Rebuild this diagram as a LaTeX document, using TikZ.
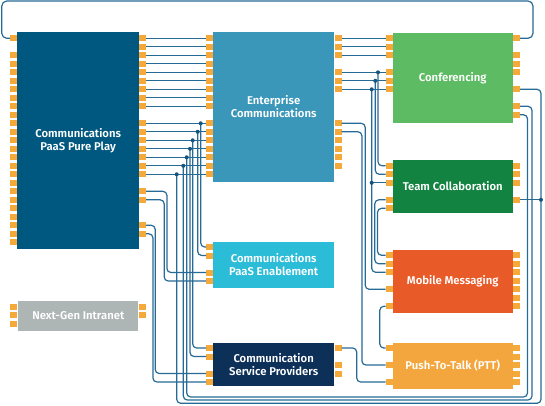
\documentclass[tikz,border=0pt]{standalone}
\usepackage{fontspec}
\setmainfont{Fira Sans}[BoldFont={Fira Sans SemiBold}]

\definecolor{purecol}{RGB}{0,88,128}
\definecolor{entcol}{RGB}{59,151,185}
\definecolor{enabcol}{RGB}{43,188,216}
\definecolor{cspcol}{RGB}{12,48,88}
\definecolor{nextcol}{RGB}{174,182,181}
\definecolor{confcol}{RGB}{93,187,99}
\definecolor{teamcol}{RGB}{19,131,66}
\definecolor{mobcol}{RGB}{232,90,40}
\definecolor{pttcol}{RGB}{244,166,62}
\definecolor{portcol}{RGB}{245,169,59}
\definecolor{wirecol}{RGB}{38,106,150}
\definecolor{jointcol}{RGB}{22,84,128}

\tikzset{
    box/.style={inner sep=0pt, text=white, align=center,
        font=\bfseries\fontsize{11.3}{13}\selectfont},
    midbox/.style={box, minimum width=120.7pt},
    rightbox/.style={box, minimum width=120pt},
    port/.style={fill=portcol, minimum width=7pt, minimum height=6pt, inner sep=0pt},
    wire/.style={draw=wirecol, line width=1.2pt, rounded corners=4pt},
}

\begin{document}
\begin{tikzpicture}[x=1pt, y=-1pt]
    \useasboundingbox (0,0) rectangle (545,406);

    % Draw Boxes
    % -- left column
    \node[box, fill=purecol, minimum width=121.7pt, minimum height=216.4pt] (pure) at (78.15,140.5) {Communications\\PaaS Pure Play};
    \node[box, fill=nextcol, minimum width=120pt, minimum height=30pt] (next) at (78.3,316) {Next-Gen Intranet};

    % -- middle column
    \node[midbox, fill=entcol, minimum height=149.4pt] (ent) at (273.65,107) {Enterprise\\Communications};
    \node[midbox, fill=enabcol, minimum height=46.6pt] (enab) at (273.65,265) {Communications\\PaaS Enablement};
    \node[midbox, fill=cspcol, minimum height=43.3pt] (csp) at (273.65,364.35) {Communication\\Service Providers};

    % -- right column
    \node[rightbox, fill=confcol, minimum height=89.4pt] (conf) at (452.7,78) {Conferencing};
    \node[rightbox, fill=teamcol, minimum height=52.7pt] (team) at (452.7,186.35) {Team Collaboration};
    \node[rightbox, fill=mobcol, minimum height=62.7pt] (mob) at (452.7,281.35) {Mobile Messaging};
    \node[rightbox, fill=pttcol, minimum height=46.6pt] (ptt) at (452.7,366) {Push-To-Talk (PTT)};

    % Draw Ports
    % -- rows of 8.5pt, starting at 38.3
    \foreach \k in {0,2,3,4,5,6,7,8,9,10,11,12,13,14,15,16,17,18,19,20,21,22,23,24}
        \node[port] (pure-l\k) at (13.8,{38.3+8.5*\k}) {};
    \foreach \k in {0,1,2,3,4,5,6,7,8,10,11,12,13,14,15,16,18,19,22,23}
        \node[port] (pure-r\k) at (142.5,{38.3+8.5*\k}) {};
    \foreach \k in {0,1,2,3,4,5,6,7,8,10,11,12,13,14,15,16}
        \node[port] (ent-l\k) at (209.8,{38.3+8.5*\k}) {};
    \foreach \k in {0,1,2,4,5,6,10,11,12,13,14,15}
        \node[port] (ent-r\k) at (338,{38.3+8.5*\k}) {};
    \foreach \k in {0,1,2,4,5,6}
        \node[port] (conf-l\k) at (389.2,{38.3+8.5*\k}) {};
    \foreach \k in {0,2,3,4,6,8,9}
        \node[port] (conf-r\k) at (516.3,{38.3+8.5*\k}) {};
    \foreach \k in {15,16,17,19,20}
        \node[port] (team-l\k) at (389.2,{38.3+8.5*\k}) {};
    \foreach \k in {15,16,17,19}
        \node[port] (team-r\k) at (516.3,{38.3+8.5*\k}) {};

    % -- boxes with their own rows
    \foreach \j in {0,1,2,4,6}
        \node[port] (mob-l\j) at (389.2,{255.3+8.5*\j}) {};
    \foreach \j in {0,1,2,3,4,5,6}
        \node[port] (mob-r\j) at (516.3,{255.3+8.5*\j}) {};
    \foreach \j in {0,2,4}
        \node[port] (ptt-l\j) at (389.2,{348+8.5*\j}) {};
    \foreach \j in {0,1,2,3,4}
        \node[port] (ptt-r\j) at (516.3,{348+8.5*\j}) {};
    \foreach \j in {0,1,3,4}
        \node[port] (enab-l\j) at (209.8,{247+8.5*\j}) {};
    \foreach \j in {0,1,3,4}
        \node[port] (csp-l\j) at (209.8,{348+8.5*\j}) {};
    \foreach \j in {0,2,3}
        \node[port] (csp-r\j) at (338,{348+8.5*\j}) {};
    \foreach \j in {0,1,2}
        \node[port] (next-l\j) at (13.8,{306.5+8.5*\j}) {};
    \foreach \j in {0,1}
        \node[port] (next-r\j) at (142.5,{306.5+8.5*\j}) {};

    % Junctions
    \foreach \k/\xx in {10/200.7,11/197.7,12/192.7,13/190,14/186.7,15/183.3,16/176.7}
        \coordinate (jp\k) at (\xx,{38.3+8.5*\k});
    \foreach \k/\xx in {4/378,5/375.3,6/371.7}
        \coordinate (je\k) at (\xx,{38.3+8.5*\k});
    \coordinate (jt17) at (371.7,{38.3+8.5*17});
    \coordinate (jr19) at (541,{38.3+8.5*19});

    % Draw Wires
    % -- loop over the top
    \draw[wire, rounded corners=5pt] (pure-l0.west) -- ++(-8.3,0) |- (533,1) |- (conf-r0.east);

    % -- straight links
    \foreach \k in {0,1,2,3,4,5,6,7,8,10,11,12,13,14,15,16}
        \draw[wire] (pure-r\k.east) -- (ent-l\k.west);
    \foreach \k in {0,1,2,4,5,6}
        \draw[wire] (ent-r\k.east) -- (conf-l\k.west);

    % -- drops from the first channel
    \draw[wire] (jp10) |- (enab-l0.west);
    \draw[wire] (jp11) |- (enab-l1.west);
    \draw[wire] (jp12) |- (csp-l0.west);
    \draw[wire] (jp13) |- (csp-l1.west);
    \draw[wire] (pure-r18.east) -- ++(20.7,0) |- (enab-l3.west);
    \draw[wire] (pure-r19.east) -- ++(18,0) |- (enab-l4.west);
    \draw[wire] (pure-r22.east) -- ++(9,0) |- (csp-l3.west);
    \draw[wire] (pure-r23.east) -- ++(6.7,0) |- (csp-l4.west);

    % -- round the bottom
    \draw[wire] (conf-r9.east) -| (527.5,397) -| (jp14);
    \draw[wire] (conf-r8.east) -| (532,400) -| (jp15);
    \draw[wire] (conf-r6.east) -| (541,403.3) -| (jp16);
    \draw[wire] (team-r19.east) -- (jr19);

    % -- drops from the second channel
    \draw[wire] (je4) |- (team-l15.west);
    \draw[wire] (je5) |- (team-l16.west);
    \draw[wire] (je6) |- (mob-l2.west);
    \draw[wire] (jt17) -- (team-l17.west);
    \draw[wire] (ent-r10.east) -- ++(23.5,0) |- (mob-l4.west);
    \draw[wire] (ent-r11.east) -- ++(20.2,0) |- (ptt-l2.west);
    \draw[wire] (team-l19.west) -- ++(-10.7,0) |- (mob-l1.west);
    \draw[wire] (team-l20.west) -- ++(-8,0) |- (mob-l0.west);
    \draw[wire] (mob-l6.west) -- ++(-5.7,0) |- (ptt-l0.west);
    \draw[wire] (csp-r0.east) -- ++(15,0) |- (ptt-l4.west);

    % Junction dots
    \foreach \j in {jp10,jp11,jp12,jp13,jp14,jp15,jp16,je4,je5,je6,jt17,jr19}
        \fill[jointcol] (\j) circle (2pt);
\end{tikzpicture}
\end{document}
